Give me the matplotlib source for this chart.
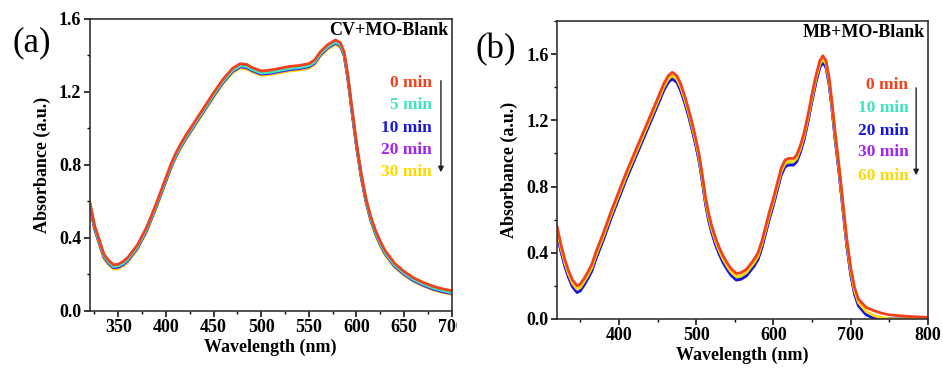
import matplotlib
matplotlib.use("Agg")
import matplotlib.pyplot as plt
from matplotlib.ticker import MultipleLocator
from matplotlib.patches import Rectangle

plt.rcParams['font.family'] = ['Liberation Serif', 'DejaVu Serif']
plt.rcParams['font.weight'] = 'bold'

# ---- (a) CV+MO blank ----
wl_a = [320, 325, 330, 335, 340, 345, 350, 355, 360, 370, 380, 390, 395, 400, 405, 410, 415, 420, 430, 440,
        450, 460, 470, 478, 485, 490, 500, 510, 520, 530, 540, 550, 556, 562, 570, 578, 583, 587, 591, 595,
        600, 605, 610, 615, 620, 625, 630, 640, 650, 660, 670, 680, 690, 700]
a_0 = [0.600, 0.470, 0.390, 0.310, 0.275, 0.252, 0.255, 0.270, 0.292, 0.360, 0.460, 0.590, 0.660, 0.730, 0.800,
       0.860, 0.910, 0.955, 1.035, 1.115, 1.195, 1.270, 1.330, 1.355, 1.350, 1.335, 1.315, 1.320, 1.330, 1.340,
       1.345, 1.355, 1.375, 1.420, 1.460, 1.485, 1.470, 1.420, 1.290, 1.120, 0.920, 0.750, 0.615, 0.515, 0.440,
       0.380, 0.330, 0.260, 0.215, 0.180, 0.155, 0.135, 0.120, 0.110]
a_5 = [0.590, 0.460, 0.378, 0.300, 0.265, 0.242, 0.245, 0.259, 0.281, 0.349, 0.449, 0.579, 0.649, 0.719, 0.789,
       0.848, 0.898, 0.943, 1.023, 1.103, 1.183, 1.258, 1.318, 1.343, 1.338, 1.323, 1.303, 1.308, 1.318, 1.328,
       1.333, 1.343, 1.363, 1.408, 1.448, 1.473, 1.458, 1.408, 1.278, 1.108, 0.908, 0.738, 0.603, 0.503, 0.428,
       0.368, 0.318, 0.249, 0.205, 0.170, 0.145, 0.125, 0.110, 0.099]
a_10 = [0.587, 0.457, 0.375, 0.297, 0.262, 0.239, 0.242, 0.256, 0.278, 0.346, 0.446, 0.576, 0.646, 0.716, 0.786,
        0.845, 0.895, 0.940, 1.020, 1.100, 1.180, 1.255, 1.315, 1.340, 1.335, 1.320, 1.300, 1.305, 1.315, 1.325,
        1.330, 1.340, 1.360, 1.405, 1.445, 1.470, 1.455, 1.405, 1.275, 1.105, 0.905, 0.735, 0.600, 0.500, 0.425,
        0.365, 0.315, 0.246, 0.202, 0.167, 0.142, 0.122, 0.107, 0.097]
a_20 = [0.583, 0.453, 0.371, 0.293, 0.258, 0.236, 0.238, 0.252, 0.274, 0.342, 0.442, 0.572, 0.642, 0.712, 0.782,
        0.842, 0.892, 0.937, 1.017, 1.097, 1.177, 1.252, 1.312, 1.337, 1.332, 1.317, 1.297, 1.302, 1.312, 1.322,
        1.327, 1.337, 1.357, 1.402, 1.442, 1.467, 1.452, 1.402, 1.272, 1.102, 0.902, 0.732, 0.597, 0.497, 0.422,
        0.362, 0.312, 0.243, 0.199, 0.164, 0.139, 0.119, 0.104, 0.094]
a_30 = [0.575, 0.445, 0.362, 0.285, 0.250, 0.228, 0.230, 0.245, 0.267, 0.335, 0.435, 0.565, 0.635, 0.705, 0.775,
        0.835, 0.885, 0.930, 1.010, 1.090, 1.170, 1.245, 1.305, 1.330, 1.325, 1.310, 1.290, 1.295, 1.305, 1.315,
        1.320, 1.330, 1.350, 1.395, 1.435, 1.460, 1.445, 1.395, 1.265, 1.095, 0.895, 0.725, 0.590, 0.490, 0.415,
        0.355, 0.305, 0.238, 0.195, 0.160, 0.135, 0.115, 0.100, 0.090]
labels_a = ["0 min", "5 min", "10 min", "20 min", "30 min"]

# ---- (b) MB+MO blank ----
wl_b = [320, 325, 330, 335, 340, 346, 350, 355, 360, 365, 370, 380, 390, 400, 410, 420, 430, 440, 450, 458,
        464, 469, 475, 480, 485, 490, 495, 500, 504, 508, 512, 516, 520, 525, 530, 535, 540, 545, 552, 558,
        565, 570, 575, 580, 585, 590, 595, 600, 605, 610, 615, 620, 626, 630, 635, 640, 645, 650, 655, 660,
        664, 668, 672, 676, 680, 685, 690, 695, 700, 705, 710, 720, 730, 740, 750, 775, 800]
b_0 = [0.56, 0.45, 0.36, 0.29, 0.235, 0.20, 0.21, 0.245, 0.285, 0.33, 0.40, 0.52, 0.65, 0.77, 0.89,
       1.00, 1.11, 1.22, 1.33, 1.42, 1.47, 1.49, 1.47, 1.42, 1.35, 1.27, 1.18, 1.08, 0.99, 0.87,
       0.74, 0.64, 0.565, 0.49, 0.43, 0.38, 0.34, 0.305, 0.275, 0.28, 0.30, 0.33, 0.36, 0.40, 0.47,
       0.56, 0.65, 0.73, 0.82, 0.91, 0.96, 0.97, 0.97, 0.99, 1.05, 1.13, 1.24, 1.36, 1.47, 1.56,
       1.59, 1.56, 1.46, 1.30, 1.12, 0.92, 0.70, 0.48, 0.31, 0.19, 0.12, 0.07, 0.05, 0.035, 0.025,
       0.015, 0.01]
b_10 = [0.525, 0.415, 0.325, 0.255, 0.20, 0.165, 0.175, 0.21, 0.25, 0.295, 0.365, 0.485, 0.615, 0.735, 0.855,
        0.965, 1.075, 1.185, 1.295, 1.385, 1.435, 1.455, 1.435, 1.385, 1.315, 1.235, 1.145, 1.045, 0.955, 0.835,
        0.705, 0.605, 0.53, 0.455, 0.395, 0.345, 0.305, 0.27, 0.24, 0.245, 0.265, 0.295, 0.325, 0.365, 0.435,
        0.525, 0.615, 0.695, 0.785, 0.875, 0.925, 0.935, 0.935, 0.955, 1.015, 1.095, 1.205, 1.325, 1.435, 1.525,
        1.555, 1.525, 1.425, 1.265, 1.085, 0.885, 0.665, 0.445, 0.275, 0.155, 0.085, 0.03, 0.008, 0.0, 0.0,
        0.0, 0.0]
b_20 = [0.52, 0.41, 0.32, 0.25, 0.195, 0.16, 0.17, 0.205, 0.245, 0.29, 0.36, 0.48, 0.61, 0.73, 0.85,
        0.96, 1.07, 1.18, 1.29, 1.38, 1.43, 1.45, 1.43, 1.38, 1.31, 1.23, 1.14, 1.04, 0.95, 0.83,
        0.70, 0.60, 0.525, 0.45, 0.39, 0.34, 0.30, 0.265, 0.235, 0.24, 0.26, 0.29, 0.32, 0.36, 0.43,
        0.52, 0.61, 0.69, 0.78, 0.87, 0.92, 0.93, 0.93, 0.95, 1.01, 1.09, 1.20, 1.32, 1.43, 1.52,
        1.55, 1.52, 1.42, 1.26, 1.08, 0.88, 0.66, 0.44, 0.27, 0.15, 0.08, 0.025, 0.005, 0.0, 0.0,
        0.0, 0.0]
b_30 = [0.522, 0.412, 0.322, 0.252, 0.197, 0.162, 0.172, 0.207, 0.247, 0.292, 0.362, 0.482, 0.612, 0.732, 0.852,
        0.962, 1.072, 1.182, 1.292, 1.382, 1.432, 1.452, 1.432, 1.382, 1.312, 1.232, 1.142, 1.042, 0.952, 0.832,
        0.702, 0.602, 0.527, 0.452, 0.392, 0.342, 0.302, 0.267, 0.237, 0.242, 0.262, 0.292, 0.322, 0.362, 0.432,
        0.522, 0.612, 0.692, 0.782, 0.872, 0.922, 0.932, 0.932, 0.952, 1.012, 1.092, 1.202, 1.322, 1.432, 1.522,
        1.552, 1.522, 1.422, 1.262, 1.082, 0.882, 0.662, 0.442, 0.272, 0.152, 0.082, 0.027, 0.006, 0.0, 0.0,
        0.0, 0.0]
b_60 = [0.54, 0.43, 0.34, 0.27, 0.215, 0.18, 0.19, 0.225, 0.265, 0.31, 0.38, 0.50, 0.63, 0.75, 0.87,
        0.98, 1.09, 1.20, 1.31, 1.40, 1.45, 1.47, 1.45, 1.40, 1.33, 1.25, 1.16, 1.06, 0.97, 0.85,
        0.72, 0.62, 0.545, 0.47, 0.41, 0.36, 0.32, 0.285, 0.255, 0.26, 0.28, 0.31, 0.34, 0.38, 0.45,
        0.54, 0.63, 0.71, 0.80, 0.89, 0.94, 0.95, 0.95, 0.97, 1.03, 1.11, 1.22, 1.34, 1.45, 1.54,
        1.57, 1.54, 1.44, 1.28, 1.10, 0.90, 0.68, 0.46, 0.29, 0.17, 0.10, 0.045, 0.02, 0.008, 0.0,
        0.0, 0.0]
labels_b = ["0 min", "10 min", "20 min", "30 min", "60 min"]

colors = ["#f2401c", "#3fe3c0", "#1616e0", "#a024f2", "#ffd800"]

fig = plt.figure(figsize=(9.43, 3.71), dpi=100)
ax1 = fig.add_axes([0.0951, 0.1625, 0.3840, 0.7863])
ax2 = fig.add_axes([0.5907, 0.1402, 0.3934, 0.8032])

# draw order so that red sits on top, as in the original
ax1.plot(wl_a, a_30, color=colors[4], lw=2.0)
ax1.plot(wl_a, a_20, color=colors[3], lw=2.0)
ax1.plot(wl_a, a_10, color=colors[2], lw=2.0)
ax1.plot(wl_a, a_5, color=colors[1], lw=2.0)
ax1.plot(wl_a, a_0, color=colors[0], lw=2.0)

ax2.plot(wl_b, b_30, color=colors[3], lw=2.0)
ax2.plot(wl_b, b_10, color=colors[1], lw=2.0)
ax2.plot(wl_b, b_20, color=colors[2], lw=2.0)
ax2.plot(wl_b, b_60, color=colors[4], lw=2.0)
ax2.plot(wl_b, b_0, color=colors[0], lw=2.0)

ax1.set_xlim(320, 700)
ax1.set_ylim(0, 1.6)
ax1.xaxis.set_major_locator(MultipleLocator(50))
ax1.xaxis.set_minor_locator(MultipleLocator(25))
ax2.set_xlim(320, 800)
ax2.set_ylim(0, 1.8)
ax2.xaxis.set_major_locator(MultipleLocator(100))
ax2.xaxis.set_minor_locator(MultipleLocator(50))

for ax in (ax1, ax2):
    ax.yaxis.set_major_locator(MultipleLocator(0.4))
    ax.yaxis.set_minor_locator(MultipleLocator(0.2))
    ax.yaxis.set_major_formatter(plt.FormatStrFormatter('%.1f'))
    ax.tick_params(which='major', direction='out', length=4, width=1.1, labelsize=13, pad=2)
    ax.tick_params(which='minor', direction='out', length=2.5, width=1.0)
    for s in ax.spines.values():
        s.set_linewidth(1.2)
        s.set_color('#333333')
    ax.set_xlabel("Wavelength (nm)", fontsize=13, fontweight='bold', labelpad=2)
    ax.set_ylabel("Absorbance (a.u.)", fontsize=13, fontweight='bold', labelpad=6)

ax1.text(0.99, 0.959, "CV+MO-Blank", transform=ax1.transAxes, ha='right', va='center', fontsize=13, fontweight='bold')
ax2.text(0.992, 0.960, "MB+MO-Blank", transform=ax2.transAxes, ha='right', va='center', fontsize=13, fontweight='bold')

ys_a = [0.780, 0.705, 0.627, 0.551, 0.476]
for lab, c, y in zip(labels_a, colors, ys_a):
    ax1.text(0.946, y, lab, transform=ax1.transAxes, ha='right', va='center', color=c, fontsize=12.5, fontweight='bold')
ax1.annotate("", xy=(0.970, 0.465), xytext=(0.970, 0.798), xycoords='axes fraction',
             arrowprops=dict(arrowstyle='-|>', color='#222222', lw=1.0, mutation_scale=8))

ys_b = [0.785, 0.709, 0.632, 0.560, 0.480]
for lab, c, y in zip(labels_b, colors, ys_b):
    ax2.text(0.947, y, lab, transform=ax2.transAxes, ha='right', va='center', color=c, fontsize=12.5, fontweight='bold')
ax2.annotate("", xy=(0.968, 0.473), xytext=(0.968, 0.785), xycoords='axes fraction',
             arrowprops=dict(arrowstyle='-|>', color='#222222', lw=1.0, mutation_scale=8))

fig.text(0.034, 0.884, "(a)", ha='center', va='center', fontsize=25, fontweight='normal')
fig.text(0.526, 0.865, "(b)", ha='center', va='center', fontsize=25, fontweight='normal')

# the original panel crop cuts off the right part of the last "700" label
fig.add_artist(Rectangle((0.4845, 0.0), 0.015, 0.14, transform=fig.transFigure,
                         facecolor='white', edgecolor='none', zorder=10))

fig.savefig("out.png", dpi=100)
